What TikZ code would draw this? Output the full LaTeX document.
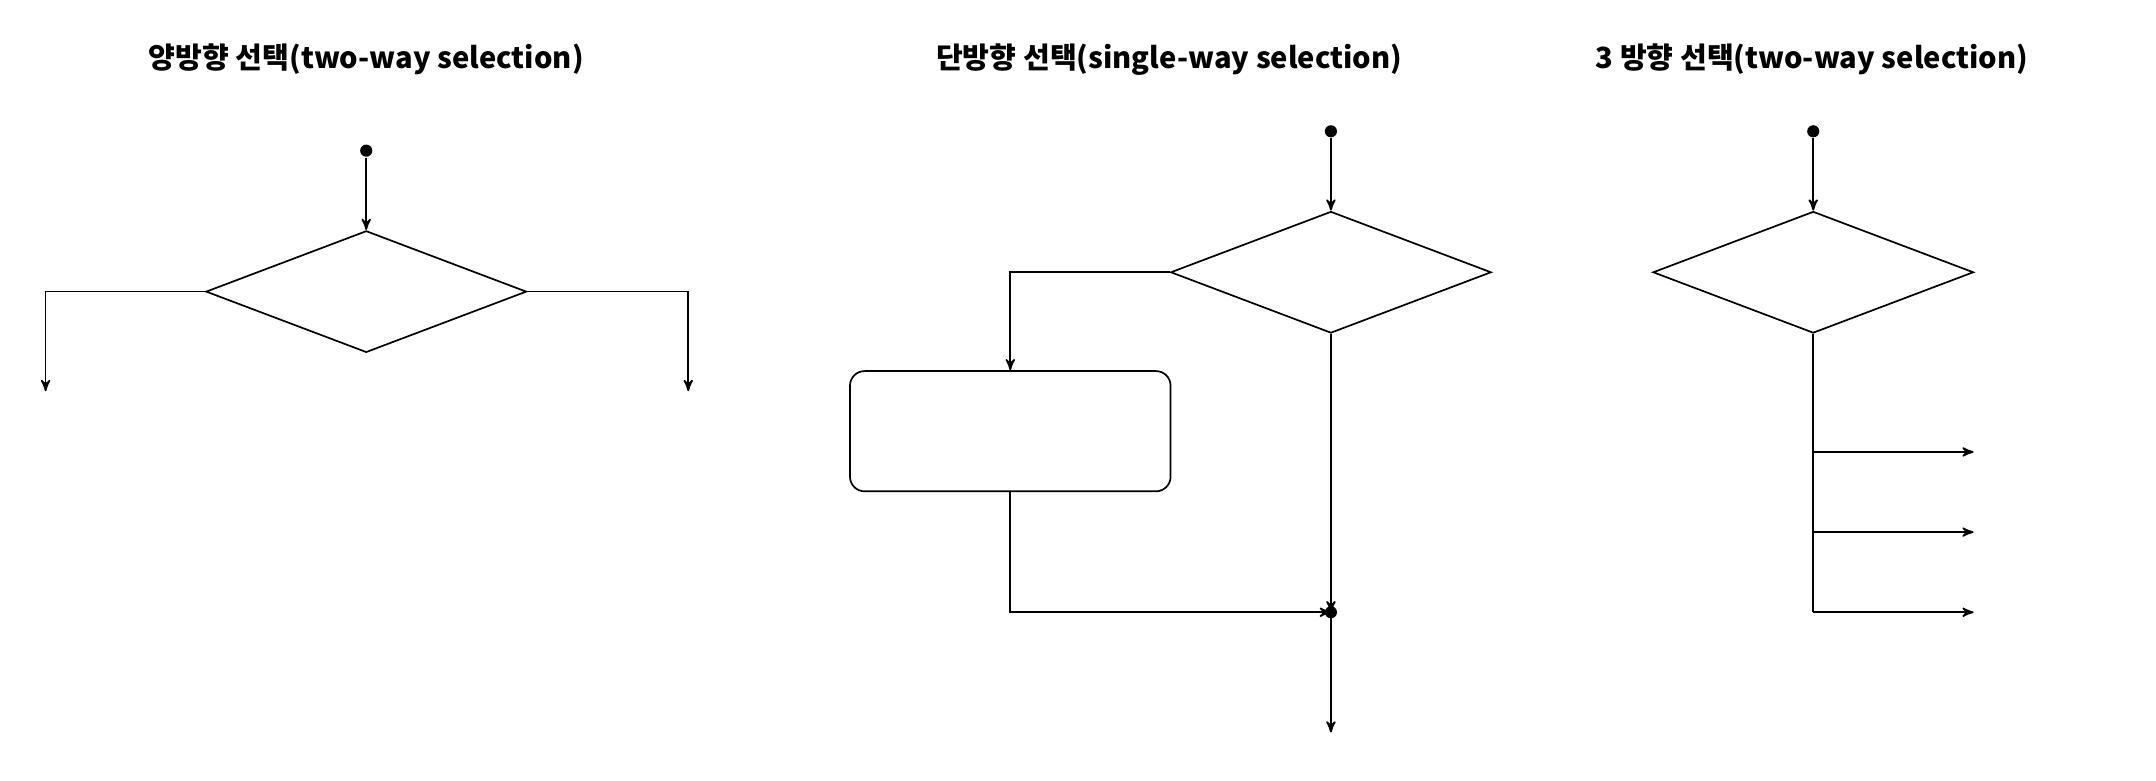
\documentclass[tikz,border=0pt]{standalone}
\usepackage{fontspec}
\setmainfont{Noto Sans CJK KR}
\usetikzlibrary{arrows,shapes.geometric,positioning,calc}
\begin{document}
\begin{tikzpicture}
[x=0.02cm,y=-0.02cm,line width=0.7pt,
title/.style={font=\bfseries\fontsize{12}{14}\selectfont},
decision/.style={shape=diamond,draw=black,aspect=2.64,minimum width=4.64cm,minimum height=1.76cm,inner sep=0pt},
process/.style={shape=rectangle,draw=black,rounded corners=6pt,minimum width=4.64cm,minimum height=1.74cm},
start/.style={circle,fill=black,inner sep=0pt,minimum size=5pt},
flow/.style={->,>=stealth',shorten >=0pt}]
\useasboundingbox (0,0) rectangle (1560,565);
% two-way
\node[title] (t1) at (265,43) {양방향 선택(two-way selection)};
\node[start] (s1) at (265,109) {};
\node[decision] (d1) at (265,211) {};
\coordinate (l1) at (33,283);
\coordinate (r1) at (498,283);
\draw[flow] (s1) -- (d1.north);
\draw[flow] (d1.west) -| (l1);
\draw[flow] (d1.east) -| (r1);
% single-way
\node[title] (t2) at (846,43) {단방향 선택(single-way selection)};
\node[start] (s2) at (963,95) {};
\node[decision] (d2) at (963,197) {};
\node[process] (p2) at (731,312) {};
\node[start] (j2) at (963,443) {};
\coordinate (e2) at (963,530);
\draw[flow] (s2) -- (d2.north);
\draw[flow] (d2.west) -| (p2.north);
\draw[flow] (p2.south) |- (j2.center);
\draw[flow] (d2.south) -- (j2.center);
\draw[flow] (j2.center) -- (e2);
% three-way
\node[title] (t3) at (1311,43) {3 방향 선택(two-way selection)};
\node[start] (s3) at (1312,95) {};
\node[decision] (d3) at (1312,197) {};
\coordinate (b3) at (1312,443);
\draw[flow] (s3) -- (d3.north);
\draw (d3.south) -- (b3);
\foreach \y/\n in {327/a,385/b,443/c}{
  \coordinate (o\n) at (1428,\y);
  \draw[flow] (1312,\y) -- (o\n);
}
\end{tikzpicture}
\end{document}
